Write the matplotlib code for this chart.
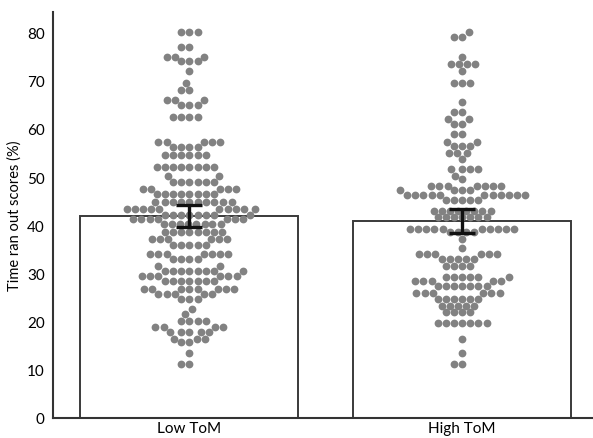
import numpy as np
import pandas as pd
import matplotlib
matplotlib.use("Agg")
import matplotlib.pyplot as plt
import seaborn as sns

groups = ["Low ToM", "High ToM"]
bar_means = [41.9, 40.9]
bar_errs = [2.25, 2.45]

low_levels = [80, 77, 75, 74, 72, 69.5, 68, 66, 65, 62.5,
              57.2, 56.2, 54.5, 52, 50.3, 49, 47.6, 46.5,
              44.8, 43.4, 42.2, 41.2, 40.2, 38.6, 37.1, 35.8, 34, 33, 31.6,
              30.6, 29.5, 28.5, 26.8, 25.7, 24.7, 22.6, 21.6,
              20.2, 18.9, 17.8, 16.4, 15.8, 13.5, 11.2]
low_counts = [3, 2, 3, 3, 1, 1, 2, 3, 3, 4,
              5, 4, 6, 8, 2, 6, 5, 8,
              10, 10, 8, 7, 8, 8, 6, 5, 7, 4, 2,
              8, 6, 7, 8, 5, 3, 1, 1,
              4, 4, 5, 3, 2, 1, 2]

high_levels = [80, 79, 75, 73.5, 72, 69.5, 65.5, 63.5, 62, 61,
               59, 57.2, 56.5, 55, 53.7, 51.7, 50.3, 49.6, 48.2, 47.2,
               46.3, 45.2, 43, 41.6, 39.2, 38.5, 37.1, 35.2,
               34, 33, 31.6, 29.2, 28.5, 27.4, 26, 24.7, 23.3, 21.9,
               19.8, 16.4, 13.5, 11.2]
high_counts = [1, 2, 1, 4, 1, 3, 1, 2, 2, 2,
               2, 2, 3, 3, 1, 4, 1, 1, 7, 4,
               11, 5, 8, 7, 10, 4, 1, 1,
               6, 5, 4, 6, 5, 7, 6, 6, 5, 4,
               7, 1, 1, 2]

df = pd.DataFrame({
    "group": ["Low ToM"] * sum(low_counts) + ["High ToM"] * sum(high_counts),
    "score": list(np.repeat(low_levels, low_counts)) + list(np.repeat(high_levels, high_counts)),
})

plt.rcParams["font.family"] = ["Lato", "DejaVu Sans"]

fig = plt.figure(figsize=(5.93, 4.39), dpi=100)
ax = fig.add_axes([0.0894, 0.0456, 0.9106, 0.9244])

x = np.arange(len(groups))
ax.bar(x, bar_means, width=0.8, color="white", edgecolor="#3a3a3a",
       linewidth=1.4, zorder=1)
sns.swarmplot(data=df, x="group", y="score", order=groups, ax=ax,
              color="#828282", size=5.6, linewidth=0, zorder=2)
ax.errorbar(x, bar_means, yerr=bar_errs, fmt="none", ecolor="#111111",
            elinewidth=2.4, capsize=9.5, capthick=2.4, zorder=3)

ax.set_xlim(-0.5, 1.48)
ax.set_ylim(0, 84.2)
ax.set_yticks(range(0, 81, 10))
ax.set_xticks(x)
ax.set_xticklabels(groups, fontsize=11)
ax.tick_params(axis="y", labelsize=11, length=0, pad=6)
ax.tick_params(axis="x", length=0, pad=2)
ax.set_xlabel("")
ax.set_ylabel("Time ran out scores (%)", fontsize=10.5, labelpad=4)

for side in ["top", "right"]:
    ax.spines[side].set_visible(False)
for side in ["left", "bottom"]:
    ax.spines[side].set_color("#333333")
    ax.spines[side].set_linewidth(1.5)

fig.savefig("out.png", dpi=100)
